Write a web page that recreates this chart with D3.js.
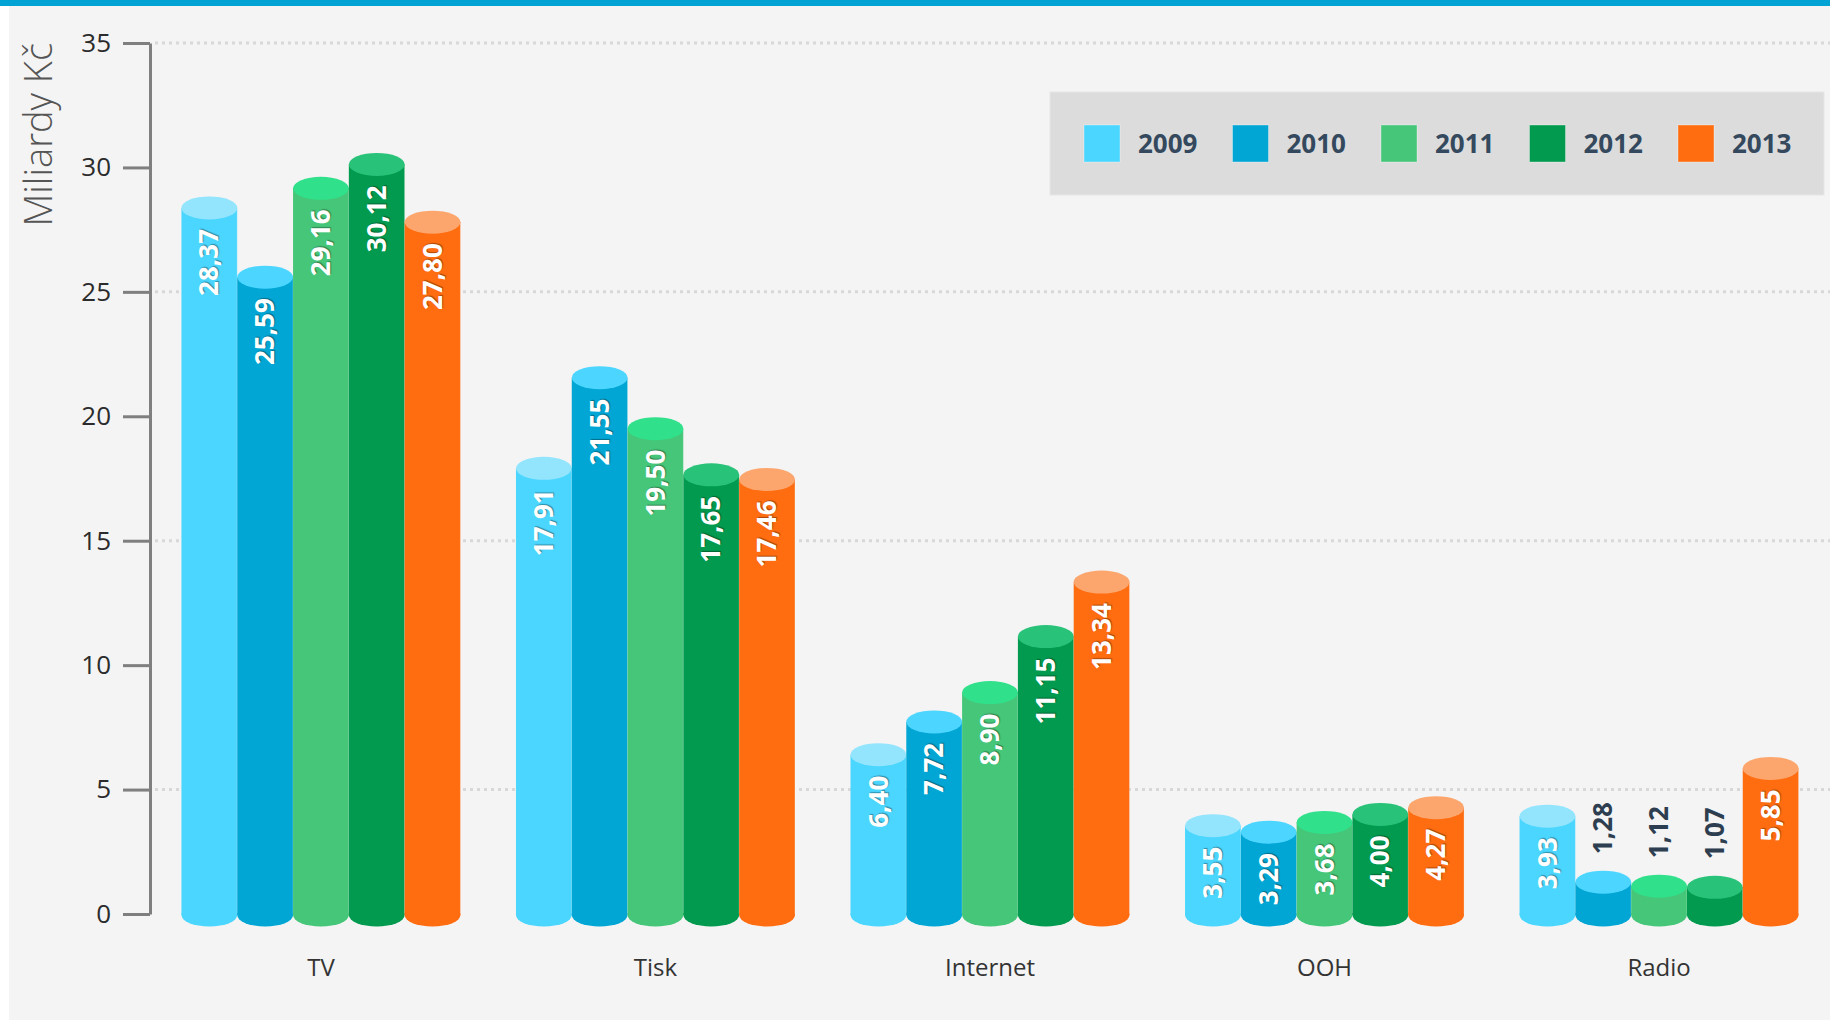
<!DOCTYPE html>
<html>
<head>
<meta charset="utf-8">
<script src="https://cdn.jsdelivr.net/npm/d3@7"></script>
<style>
  body { margin: 0; background: #fff; }
  svg { display: block; font-family: "Open Sans", "Noto Sans", sans-serif; }
  .val-in { text-shadow: 1px 1px 1px rgba(0,0,0,0.35); }
</style>
</head>
<body>
<div id="chart-area"></div>
<script>
// data
const categories = ["TV", "Tisk", "Internet", "OOH", "Radio"]
const years = ["2009", "2010", "2011", "2012", "2013"]
const v2009 = [28.37, 17.91, 6.40, 3.55, 3.93]
const v2010 = [25.59, 21.55, 7.72, 3.29, 1.28]
const v2011 = [29.16, 19.50, 8.90, 3.68, 1.12]
const v2012 = [30.12, 17.65, 11.15, 4.00, 1.07]
const v2013 = [27.80, 17.46, 13.34, 4.27, 5.85]
const yTicks = [0, 5, 10, 15, 20, 25, 30, 35]
const gridTicks = [5, 15, 25, 35]

const seriesValues = [v2009, v2010, v2011, v2012, v2013]
const sideColors = ["#4ad6ff", "#02a6d4", "#46c679", "#019a4e", "#ff6d10"]
const topColors = ["#93e5fe", "#4cd6ff", "#30e08a", "#28c278", "#fca66e"]

const W = 1830, H = 1021
const PLOT = { LEFT: 150, RIGHT: 1830, TOP: 43, BOTTOM: 914 }

const svg = d3.select("#chart-area").append("svg")
	.attr("width", W)
	.attr("height", H)

// backgrounds
svg.append("rect").attr("width", W).attr("height", H).attr("fill", "#ffffff")
svg.append("rect")
	.attr("x", 9).attr("y", 0)
	.attr("width", W - 9).attr("height", H - 1)
	.attr("fill", "#f4f4f4")
svg.append("rect").attr("width", W).attr("height", 6).attr("fill", "#00a3d3")

// scales
const y = d3.scaleLinear().domain([0, 35]).range([PLOT.BOTTOM, PLOT.TOP])
const x0 = d3.scaleBand().domain(categories)
	.range([PLOT.LEFT, PLOT.RIGHT])
	.paddingInner(0.166)
	.paddingOuter(0.094)
const x1 = d3.scaleBand().domain(years).range([0, x0.bandwidth()])

const fmt = d => d3.format(".2f")(d).replace(".", ",")

// grid lines
svg.append("g").selectAll("line")
	.data(gridTicks)
	.join("line")
	.attr("x1", PLOT.LEFT + 5)
	.attr("x2", W)
	.attr("y1", d => y(d))
	.attr("y2", d => y(d))
	.attr("stroke", "#d8d8d8")
	.attr("stroke-width", 3)
	.attr("stroke-dasharray", "3,4")

// y axis
const yAxis = svg.append("g")
	.attr("transform", `translate(${PLOT.LEFT}, 0)`)
	.call(d3.axisLeft(y).tickValues(yTicks).tickSize(27).tickSizeOuter(0).tickPadding(12))
yAxis.select(".domain").attr("stroke", "#7f7f7f").attr("stroke-width", 3)
yAxis.selectAll(".tick line").attr("stroke", "#7f7f7f").attr("stroke-width", 3)
yAxis.selectAll(".tick text")
	.attr("fill", "#2b2b2b")
	.attr("font-size", "26px")
	.attr("font-family", "'Open Sans', sans-serif")

// y label
svg.append("text")
	.attr("transform", "translate(52, 43) rotate(-90)")
	.attr("text-anchor", "end")
	.attr("font-size", "38px")
	.attr("font-weight", 300)
	.attr("fill", "#555")
	.text("Miliardy Kč")

// bars
const groups = svg.append("g").selectAll("g")
	.data(categories)
	.join("g")
	.attr("transform", d => `translate(${x0(d)}, 0)`)

const RY = 11.5
const bw = x1.bandwidth()

groups.each(function (cat, ci) {
	const g = d3.select(this)
	years.forEach((yr, si) => {
		const v = seriesValues[si][ci]
		const bx = x1(yr)
		const cx = bx + bw / 2
		g.append("ellipse")
			.attr("cx", cx).attr("cy", y(0) + 1)
			.attr("rx", bw / 2).attr("ry", RY)
			.attr("fill", sideColors[si])
		g.append("rect")
			.attr("x", bx).attr("y", y(v))
			.attr("width", bw).attr("height", y(0) + 1 - y(v))
			.attr("fill", sideColors[si])
		g.append("line")
			.attr("x1", bx + bw).attr("x2", bx + bw)
			.attr("y1", y(v)).attr("y2", y(0))
			.attr("stroke", "rgba(255,255,255,0.25)")
			.attr("stroke-width", 1)
		g.append("ellipse")
			.attr("cx", cx).attr("cy", y(v))
			.attr("rx", bw / 2).attr("ry", RY)
			.attr("fill", topColors[si])

		const inside = v >= 2
		g.append("text")
			.attr("class", inside ? "val-in" : "val-out")
			.attr("transform", `translate(${cx}, ${inside ? y(v) + 21 : y(v) - 28}) rotate(-90)`)
			.attr("text-anchor", inside ? "end" : "start")
			.attr("dy", "0.35em")
			.attr("font-size", "26px")
			.attr("font-weight", 700)
			.attr("fill", inside ? "#ffffff" : "#2c3e50")
			.text(fmt(v))
	})
})

// category labels
svg.append("g").selectAll("text")
	.data(categories)
	.join("text")
	.attr("x", d => x0(d) + x0.bandwidth() / 2)
	.attr("y", 976)
	.attr("text-anchor", "middle")
	.attr("font-size", "24px")
	.attr("fill", "#333")
	.text(d => d)

// legend
const legend = svg.append("g")
legend.append("rect")
	.attr("x", 1050).attr("y", 92)
	.attr("width", 774).attr("height", 103)
	.attr("fill", "#dcdcdc")
	.attr("stroke", "#e6e6e6")
	.attr("stroke-width", 1)

const legendItems = legend.selectAll("g.item")
	.data(years)
	.join("g")
	.attr("class", "item")
	.attr("transform", (d, i) => `translate(${1084 + i * 148.5}, 125)`)
legendItems.append("rect")
	.attr("width", 36).attr("height", 37)
	.attr("fill", (d, i) => sideColors[i])
	.attr("stroke", "rgba(255,255,255,0.35)")
legendItems.append("text")
	.attr("x", 54)
	.attr("y", 28)
	.attr("font-size", "26px")
	.attr("font-weight", 700)
	.attr("fill", "#34495e")
	.text(d => d)
</script>
</body>
</html>
